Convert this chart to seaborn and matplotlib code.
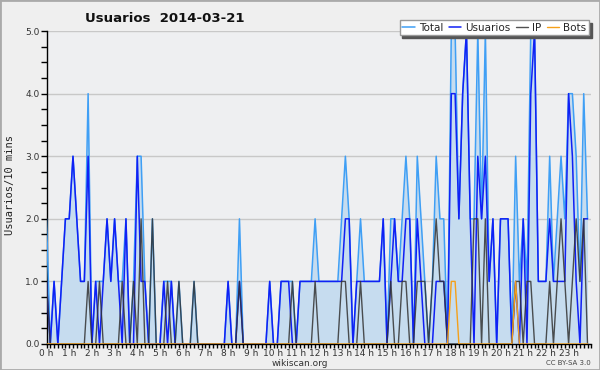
import numpy as np
import matplotlib
matplotlib.use("Agg")
import matplotlib.pyplot as plt
import seaborn as sns
from matplotlib.patches import Rectangle
from matplotlib.ticker import FixedLocator, MultipleLocator

# 10-minute slots over the day (144 values)
total = [
    2, 0, 1, 0, 1, 2, 2, 3, 2, 1, 1, 4,
    0, 1, 1, 1, 2, 1, 2, 1, 1, 2, 0, 1,
    3, 3, 1, 0, 2, 0, 0, 1, 1, 1, 0, 1,
    0, 0, 0, 1, 0, 0, 0, 0, 0, 0, 0, 0,
    1, 0, 0, 2, 0, 0, 0, 0, 0, 0, 0, 1,
    0, 0, 1, 1, 1, 1, 0, 1, 1, 1, 1, 2,
    1, 1, 1, 1, 1, 1, 2, 3, 2, 0, 1, 2,
    1, 1, 1, 1, 1, 2, 0, 2, 2, 1, 2, 3,
    2, 0, 3, 2, 1, 0, 1, 3, 2, 2, 0, 5,
    5, 2, 4, 5, 2, 2, 5, 2, 5, 1, 2, 0,
    2, 2, 2, 0, 3, 1, 2, 1, 5, 5, 1, 1,
    1, 3, 1, 2, 3, 2, 4, 4, 3, 1, 4, 2,
]
usuarios = [
    1, 0, 1, 0, 1, 2, 2, 3, 2, 1, 1, 3,
    0, 1, 0, 1, 2, 1, 2, 1, 0, 2, 0, 0,
    3, 1, 1, 0, 0, 0, 0, 1, 0, 1, 0, 0,
    0, 0, 0, 0, 0, 0, 0, 0, 0, 0, 0, 0,
    1, 0, 0, 1, 0, 0, 0, 0, 0, 0, 0, 1,
    0, 0, 1, 1, 1, 0, 0, 1, 1, 1, 1, 1,
    1, 1, 1, 1, 1, 1, 1, 2, 2, 0, 1, 1,
    1, 1, 1, 1, 1, 2, 0, 1, 2, 1, 1, 2,
    2, 0, 2, 1, 0, 0, 0, 1, 1, 1, 0, 4,
    4, 2, 4, 5, 2, 0, 3, 2, 3, 1, 2, 0,
    2, 2, 2, 0, 1, 0, 2, 0, 4, 5, 1, 1,
    1, 2, 1, 1, 1, 1, 4, 3, 1, 0, 2, 2,
]
ip = [
    1, 0, 0, 0, 0, 0, 0, 0, 0, 0, 0, 1,
    0, 0, 1, 0, 0, 0, 0, 0, 1, 0, 0, 1,
    0, 2, 0, 0, 2, 0, 0, 0, 1, 0, 0, 1,
    0, 0, 0, 1, 0, 0, 0, 0, 0, 0, 0, 0,
    0, 0, 0, 1, 0, 0, 0, 0, 0, 0, 0, 0,
    0, 0, 0, 0, 0, 1, 0, 0, 0, 0, 0, 1,
    0, 0, 0, 0, 0, 0, 1, 1, 0, 0, 0, 1,
    0, 0, 0, 0, 0, 0, 0, 1, 0, 0, 1, 1,
    0, 0, 1, 1, 1, 0, 1, 2, 1, 1, 0, 0,
    0, 0, 0, 0, 0, 2, 2, 0, 2, 0, 0, 0,
    0, 0, 0, 0, 1, 1, 0, 1, 1, 0, 0, 0,
    0, 1, 0, 1, 2, 1, 0, 1, 2, 1, 2, 0,
]
bots = [0] * 144
bots[107] = 1
bots[108] = 1
bots[124] = 1

hour_labels = [f"{h} h" for h in range(24)]
y_labels = ["0.0", "1.0", "2.0", "3.0", "4.0", "5.0"]

slots = np.arange(len(total)) / 6.0  # hours

sns.set_theme(style="white")
plt.rcParams['font.family'] = ['DejaVu Sans']

fig = plt.figure(figsize=(6, 3.7), dpi=100, facecolor='#efefef')
ax = fig.add_axes([0.0775, 0.0703, 0.908, 0.8457])
ax.set_facecolor('#eeeff1')

ax.fill_between(slots, total, color='#c6dcef', lw=0, zorder=1)
sns.lineplot(x=slots, y=total, ax=ax, color='#3f9ff5', lw=1.1, label='Total', zorder=3)
sns.lineplot(x=slots, y=usuarios, ax=ax, color='#1020f5', lw=1.1, label='Usuarios', zorder=4)
sns.lineplot(x=slots, y=ip, ax=ax, color='#333333', lw=1.0, alpha=0.85, label='IP', zorder=5)
sns.lineplot(x=slots, y=bots, ax=ax, color='#f5a01a', lw=1.0, label='Bots', zorder=6)

ax.set_xlim(0, 24)
ax.set_ylim(0, 5)
ax.set_xlabel('')
ax.set_ylabel('')

ax.xaxis.set_major_locator(FixedLocator(range(24)))
ax.set_xticklabels(hour_labels)
ax.xaxis.set_minor_locator(MultipleLocator(1 / 6))
ax.yaxis.set_major_locator(FixedLocator(range(6)))
ax.set_yticklabels(y_labels)
ax.yaxis.set_minor_locator(MultipleLocator(0.25))

ax.tick_params(axis='both', which='both', direction='out', width=1,
               color='black', labelsize=6.5, labelcolor='#333333',
               bottom=True, left=True)
ax.tick_params(axis='x', which='both', length=3, pad=0.5)
ax.tick_params(axis='y', which='both', length=4, pad=1)
ax.yaxis.grid(True, color='#c8c8c8', lw=1)
ax.set_axisbelow(True)
for side in ['top', 'right']:
    ax.spines[side].set_visible(False)
for side in ['left', 'bottom']:
    ax.spines[side].set_color('black')
    ax.spines[side].set_linewidth(1)

leg = ax.legend(ncol=4, loc='upper right', bbox_to_anchor=(0.982, 0.946),
                bbox_transform=fig.transFigure, frameon=True, fancybox=False,
                shadow={'color': '#555555', 'alpha': 1.0}, fontsize=7.5,
                handlelength=1.2, handletextpad=0.4, columnspacing=0.5,
                borderpad=0.25, borderaxespad=0)
leg.get_frame().set_edgecolor('#999999')
leg.get_frame().set_facecolor('white')
leg.get_frame().set_alpha(1)

fig.text(85 / 600, 1 - 18.5 / 370, 'Usuarios  2014-03-21', weight='bold',
         size=9.5, va='center', ha='left', color='#111111')
fig.text(10 / 600, 0.5, 'Usuarios/10 mins', rotation=90, family='DejaVu Sans Mono',
         size=7.5, va='center', ha='center', color='#222222')
fig.text(0.5, 1 - 363 / 370, 'wikiscan.org', size=6.5, ha='center', va='center', color='#333333')
fig.text(568 / 600, 1 - 363 / 370, 'CC BY-SA 3.0', size=5, ha='center', va='center', color='#444444')

fig.patches.append(Rectangle((0, 0), 1, 1, transform=fig.transFigure, fill=False,
                             ec='#aaaaaa', lw=2))

fig.savefig('out.png', dpi=100, facecolor=fig.get_facecolor())
